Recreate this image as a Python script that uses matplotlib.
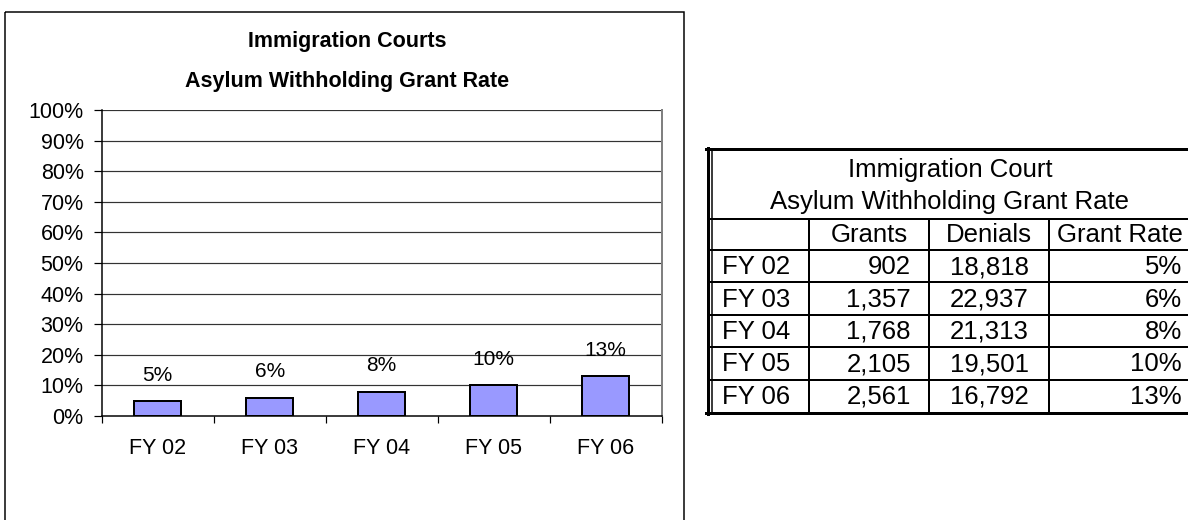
import matplotlib
matplotlib.use("Agg")
import matplotlib.pyplot as plt
from matplotlib.patches import Rectangle

plt.rcParams['font.family'] = ['Liberation Sans', 'DejaVu Sans']

years = ["FY 02", "FY 03", "FY 04", "FY 05", "FY 06"]
grants = [902, 1357, 1768, 2105, 2561]
denials = [18818, 22937, 21313, 19501, 16792]
grant_rate = [5, 6, 8, 10, 13]  # percent, as shown

W, H = 1188, 520
fig = plt.figure(figsize=(W / 100, H / 100), dpi=100)

# background layer in pixel coordinates (frame + table)
bg = fig.add_axes([0, 0, 1, 1])
bg.set_xlim(0, W)
bg.set_ylim(H, 0)
bg.axis("off")
px = 0.72  # one pixel in points

# chart frame (bottom edge runs off the picture)
bg.add_patch(Rectangle((4.5, 12), 679.5, 520, fill=False, ec="black", lw=1.5 * px))
bg.text(347, 41, "Immigration Courts", ha="center", va="center",
        fontsize=15.5, fontweight="bold")
bg.text(347, 81, "Asylum Withholding Grant Rate", ha="center", va="center",
        fontsize=15.5, fontweight="bold")

# bar chart
ax = fig.add_axes([101.7 / W, 1 - 416 / H, 560 / W, 306 / H])
x = list(range(len(years)))
ax.bar(x, grant_rate, width=0.42, color="#9999FF", edgecolor="black",
       linewidth=2 * px, zorder=3)
for xi, v in zip(x, grant_rate):
    ax.annotate(f"{v}%", (xi, v), xytext=(0, 18.5), textcoords="offset points",
                ha="center", va="center", fontsize=15)
ax.set_xlim(-0.5, len(years) - 0.5)
ax.set_ylim(0, 100)
ax.set_yticks(range(0, 101, 10))
ax.set_yticklabels([f"{t}%" for t in range(0, 101, 10)], fontsize=15.5)
ax.set_xticks(x)
ax.set_xticklabels(years, fontsize=15.5)
ax.set_xticks([i - 0.5 for i in range(len(years) + 1)], minor=True)
ax.tick_params(axis="x", which="major", length=0, pad=16)
ax.tick_params(axis="x", which="minor", length=5, width=1.2 * px, direction="out")
ax.tick_params(axis="y", length=6, width=1.2 * px, direction="out", pad=7)
for t in range(10, 101, 10):
    ax.axhline(t, color="#333333", lw=1.2 * px, zorder=1)
ax.spines["top"].set_visible(False)
ax.spines["right"].set_color("#808080")
ax.spines["right"].set_linewidth(2 * px)
ax.spines["left"].set_linewidth(1.5 * px)
ax.spines["bottom"].set_linewidth(1.5 * px)

# data table on the right
left, right = 710, 1190
top, bottom = 150, 412
col_x = [left, 809, 929, 1049, right]
title_bottom, head_bottom = 219, 250
row_h = (bottom - head_bottom) / len(years)
lw_in = 2 * px

bg.plot([left - 2.5, left - 2.5], [top - 2, bottom + 2], color="black", lw=3 * px)
bg.plot([left + 1.5, left + 1.5], [top, bottom], color="black", lw=1.5 * px)
bg.plot([left - 4, right], [top - 1, top - 1], color="black", lw=3 * px)
bg.plot([left - 4, right], [bottom + 1, bottom + 1], color="black", lw=3 * px)
bg.plot([left, right], [title_bottom, title_bottom], color="black", lw=lw_in)
bg.plot([left, right], [head_bottom, head_bottom], color="black", lw=lw_in)
for i in range(1, len(years)):
    yy = head_bottom + i * row_h
    bg.plot([left, right], [yy, yy], color="black", lw=lw_in)
for cx in col_x[1:4]:
    bg.plot([cx, cx], [title_bottom, bottom], color="black", lw=lw_in)

tfs = 18.5
bg.text(950, 170, "Immigration Court", ha="center", va="center", fontsize=tfs)
bg.text(950, 202, "Asylum Withholding Grant Rate", ha="center", va="center", fontsize=tfs)
hy = (title_bottom + head_bottom) / 2 + 1
bg.text((col_x[1] + col_x[2]) / 2, hy, "Grants", ha="center", va="center", fontsize=tfs)
bg.text((col_x[2] + col_x[3]) / 2, hy, "Denials", ha="center", va="center", fontsize=tfs)
bg.text(1120, hy, "Grant Rate", ha="center", va="center", fontsize=tfs)
for i, (yr, g, d, r) in enumerate(zip(years, grants, denials, grant_rate)):
    yy = head_bottom + (i + 0.5) * row_h + 1
    bg.text(722, yy, yr, ha="left", va="center", fontsize=tfs)
    bg.text(911, yy, f"{g:,}", ha="right", va="center", fontsize=tfs)
    bg.text((col_x[2] + col_x[3]) / 2, yy, f"{d:,}", ha="center", va="center", fontsize=tfs)
    bg.text(1182, yy, f"{r}%", ha="right", va="center", fontsize=tfs)

fig.savefig("out.png", dpi=100)
